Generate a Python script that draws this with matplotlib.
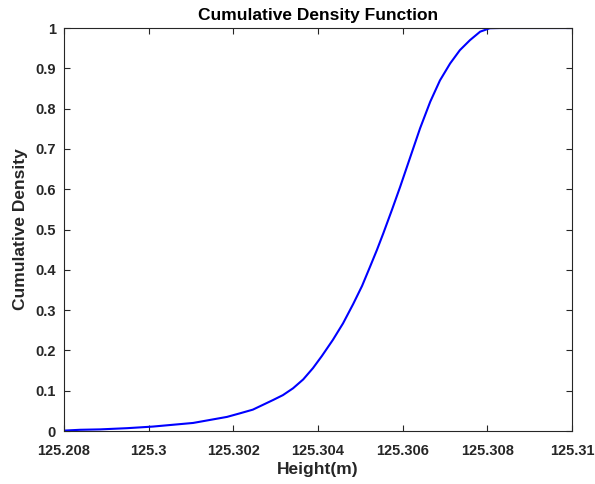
import numpy as np
import matplotlib.pyplot as plt

plt.rcParams['font.family'] = ['Liberation Sans', 'DejaVu Sans']
plt.rcParams['font.weight'] = 'bold'

# empirical CDF of measured heights
height = [125.29800, 125.29838, 125.29885, 125.29949, 125.30010, 125.30105,
          125.30185, 125.30216, 125.30246, 125.30294, 125.30317, 125.30341,
          125.30365, 125.30388, 125.30409, 125.30435, 125.30459, 125.30483,
          125.30504, 125.30523, 125.30539, 125.30554, 125.30575, 125.30594,
          125.30617, 125.30641, 125.30665, 125.30688, 125.30712, 125.30735,
          125.30759, 125.30783, 125.30806, 125.30830, 125.31000]
cdf = [0.001, 0.003, 0.004, 0.007, 0.011, 0.020,
       0.035, 0.044, 0.053, 0.077, 0.089, 0.106,
       0.128, 0.156, 0.186, 0.226, 0.267, 0.315,
       0.360, 0.408, 0.449, 0.490, 0.550, 0.606,
       0.677, 0.751, 0.817, 0.870, 0.912, 0.945,
       0.970, 0.991, 0.9995, 1.000, 1.000]

xticks = [125.298, 125.300, 125.302, 125.304, 125.306, 125.308, 125.310]
xticklabels = ['125.208', '125.3', '125.302', '125.304', '125.306', '125.308', '125.31']
yticks = [0, 0.1, 0.2, 0.3, 0.4, 0.5, 0.6, 0.7, 0.8, 0.9, 1]
yticklabels = ['0', '0.1', '0.2', '0.3', '0.4', '0.5', '0.6', '0.7', '0.8', '0.9', '1']

fig = plt.figure(figsize=(5.95, 4.84), dpi=100)
ax = fig.add_axes([0.1076, 0.1095, 0.8538, 0.8326])

ax.plot(height, cdf, color=(0, 0, 1), linewidth=1.5, solid_joinstyle='round')

ax.set_xlim(125.298, 125.310)
ax.set_ylim(0, 1)
ax.set_xticks(xticks)
ax.set_xticklabels(xticklabels)
ax.set_yticks(yticks)
ax.set_yticklabels(yticklabels)

edge = '#262626'
for s in ax.spines.values():
    s.set_color(edge)
    s.set_linewidth(0.8)
ax.tick_params(direction='in', top=True, right=True, length=4, width=0.8,
               color=edge, labelcolor=edge, labelsize=10.5)
ax.tick_params(axis='x', pad=9)
ax.tick_params(axis='y', pad=6)

ax.set_title('Cumulative Density Function', fontsize=12.5, fontweight='bold', pad=6)
ax.set_xlabel('Height(m)', fontsize=12.5, fontweight='bold', color=edge, labelpad=3)
ax.set_ylabel('Cumulative Density', fontsize=12.5, fontweight='bold', color=edge, labelpad=5)

fig.savefig('out.png', dpi=100)
